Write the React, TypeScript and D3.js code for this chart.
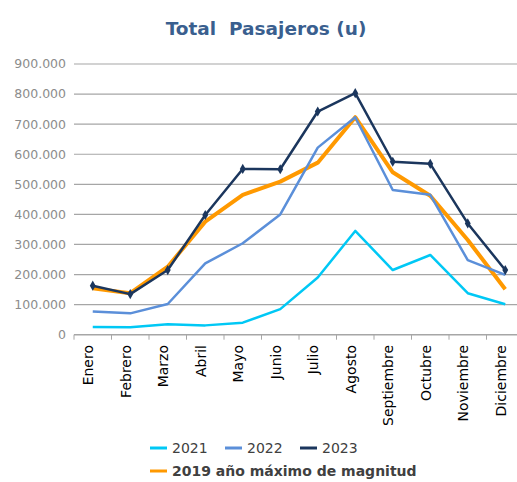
import React from "react";
import * as d3 from "d3";

const months = ["Enero","Febrero","Marzo","Abril","Mayo","Junio","Julio","Agosto","Septiembre","Octubre","Noviembre","Diciembre"];
const s2019 = [154000,138000,226000,376000,465000,509000,572000,723000,540000,462000,315000,151000];
const s2021 = [26000,25000,35000,31000,40000,85000,190000,345000,215000,265000,138000,101000];
const s2022 = [77000,71000,102000,237000,304000,400000,622000,723000,481000,465000,248000,199000];
const s2023 = [163000,135000,215000,398000,551000,550000,742000,803000,575000,568000,370000,215000];
const yTicks = [0,100000,200000,300000,400000,500000,600000,700000,800000,900000];

const W = 517, H = 482;
const FONT = "DejaVu Sans, Verdana, sans-serif";

export default function App() {
  const x = d3.scaleBand<string>().domain(months).range([74, 524]);
  const y = d3.scaleLinear().domain([0, 900000]).range([334.7, 64]);
  const cx = (m: string) => (x(m) as number) + x.bandwidth() / 2;
  const line = (vals: number[]) =>
    d3.line<number>().x((_, i) => cx(months[i])).y(d => y(d))(vals) as string;
  const fmt = (v: number) => (v === 0 ? "0" : d3.format(",")(v).replace(/,/g, "."));
  const diamond = d3.symbol().type(d3.symbolDiamond).size(30)() as string;

  const series = [
    { vals: s2019, color: "#FF9900", w: 4 },
    { vals: s2021, color: "#00C8F5", w: 2.5 },
    { vals: s2022, color: "#5B8FD9", w: 2.5 },
    { vals: s2023, color: "#1B365D", w: 2.5 },
  ];

  return (
    <svg width={W} height={H} style={{ position: "absolute", left: 0, top: 0, background: "#fff" }} fontFamily={FONT}>
      <text x={266} y={35} textAnchor="middle" fontSize={18.5} fontWeight="bold" fill="#3A5F8F" style={{ whiteSpace: "pre" }}>
        {"Total  Pasajeros (u)"}
      </text>
      {yTicks.map(t => (
        <g key={t}>
          {t > 0 && <line x1={74} x2={524} y1={y(t)} y2={y(t)} stroke="#A6A6A6" strokeWidth={1.2} />}
          <text x={66} y={y(t)} dy="0.35em" textAnchor="end" fontSize={12.5} fill="#8C8C8C">{fmt(t)}</text>
        </g>
      ))}
      <line x1={74} x2={524} y1={y(0)} y2={y(0)} stroke="#A6A6A6" strokeWidth={1.5} />
      {months.map((m, i) => (
        <line key={m} x1={74 + x.step() * i} x2={74 + x.step() * i} y1={y(0)} y2={y(0) + 5} stroke="#A6A6A6" strokeWidth={1} />
      ))}
      {months.map(m => (
        <text key={m} transform={`translate(${cx(m) - 4.5},345) rotate(-90)`} dy="0.35em" textAnchor="end" fontSize={14} fill="#000">
          {m}
        </text>
      ))}
      {series.map((s, k) => (
        <path key={k} d={line(s.vals)} fill="none" stroke={s.color} strokeWidth={s.w} strokeLinejoin="round" />
      ))}
      {s2023.map((v, i) => (
        <path key={i} d={diamond} transform={`translate(${cx(months[i])},${y(v)})`} fill="#1B365D" />
      ))}
      <g fontSize={14} fill="#404040">
        <line x1={150} x2={167} y1={448} y2={448} stroke="#00C8F5" strokeWidth={3} />
        <text x={172} y={448} dy="0.35em">2021</text>
        <line x1={225} x2={242} y1={448} y2={448} stroke="#5B8FD9" strokeWidth={3} />
        <text x={247} y={448} dy="0.35em">2022</text>
        <line x1={300} x2={317} y1={448} y2={448} stroke="#1B365D" strokeWidth={3} />
        <text x={322} y={448} dy="0.35em">2023</text>
        <line x1={150} x2={167} y1={471} y2={471} stroke="#FF9900" strokeWidth={3} />
        <text x={172} y={471} dy="0.35em" fontWeight="bold">2019 año máximo de magnitud</text>
      </g>
    </svg>
  );
}
